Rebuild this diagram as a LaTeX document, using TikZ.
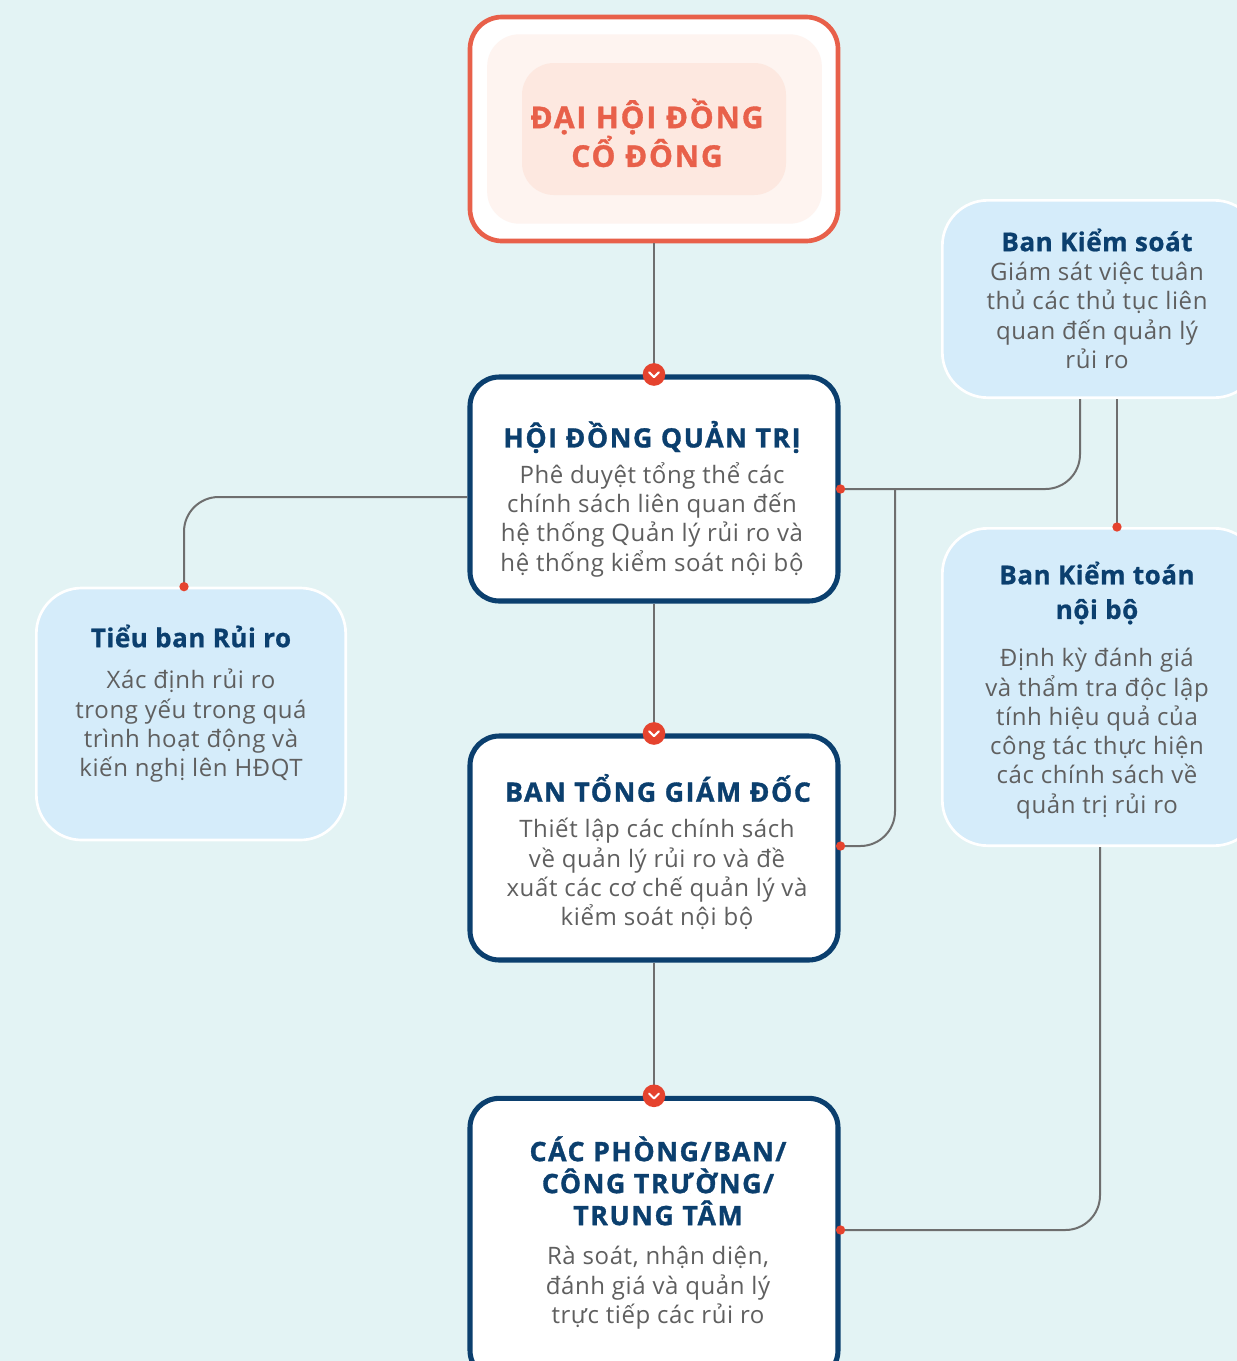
\documentclass[tikz,border=0pt]{standalone}
\usepackage{fontspec}
\setmainfont{Open Sans}[LetterSpace=2.5]
\newfontfamily\titlefont{Open Sans}[LetterSpace=6, BoldFeatures={FakeBold=1.2}]
\newfontfamily\stitlefont{Open Sans}[LetterSpace=2, BoldFeatures={FakeBold=0.8}]
\usetikzlibrary{calc}
\definecolor{bgc}{HTML}{E3F3F4}
\definecolor{navy}{HTML}{0B3F6E}
\definecolor{orng}{HTML}{E8604A}
\definecolor{txtg}{HTML}{5F5F5F}
\definecolor{conc}{HTML}{6E6E6E}
\definecolor{lblue}{HTML}{D5ECFA}
\definecolor{pink1}{HTML}{FEF4F0}
\definecolor{pink2}{HTML}{FDE8E0}
\definecolor{redd}{HTML}{E5432E}
\tikzset{
  mainbox/.style={draw=navy, line width=3.8pt, fill=white, rounded corners=22pt, minimum width=276pt, minimum height=168pt, inner sep=0pt},
  sidebox/.style={draw=white, line width=2pt, fill=lblue, rounded corners=34pt, inner sep=0pt},
  ttl/.style={text=navy, font=\titlefont\bfseries\fontsize{20}{24}\selectfont, align=center, inner sep=0pt},
  sttl/.style={text=navy, font=\stitlefont\bfseries\fontsize{19.5}{26}\selectfont, align=center, inner sep=0pt},
  bdy/.style={text=txtg, font=\fontsize{18}{22}\selectfont, align=center, inner sep=0pt},
  conn/.style={draw=conc, line width=1.5pt, rounded corners=26pt},
  rdot/.style={circle, fill=redd, inner sep=0pt, minimum size=7pt},
}
\newcommand{\chev}[1]{%
  \fill[redd] (#1) circle (8.5pt);
  \draw[white, line width=1.5pt, line cap=round, line join=round] ($(#1)+(-3.6pt,1.6pt)$) -- ($(#1)+(0,-2pt)$) -- ($(#1)+(3.6pt,1.6pt)$);
}
\begin{document}
\begin{tikzpicture}[x=0.75pt,y=-0.75pt]
\useasboundingbox (0,0) rectangle (1237,1361);
\clip (0,0) rectangle (1237,1361);
\fill[bgc] (0,0) rectangle (1237,1361);

% top box
\node[draw=orng, line width=3.5pt, fill=white, rounded corners=24pt, minimum width=276pt, minimum height=168pt, inner sep=0pt] (dhd) at (654,129) {};
\node[fill=pink1, rounded corners=24pt, minimum width=251pt, minimum height=142pt, inner sep=0pt] (dhdin) at (654.5,129) {};
\node[fill=pink2, rounded corners=24pt, minimum width=198pt, minimum height=99pt, inner sep=0pt] (dhdin2) at (654,129) {};
\node[text=orng, font=\titlefont\bfseries\fontsize{22.5}{28}\selectfont, align=center, inner sep=0pt] (dhdt) at (647,133) {ĐẠI HỘI ĐỒNG\\CỔ ĐÔNG};

% main boxes
\node[mainbox] (hdqt) at (654,489) {};
\node[mainbox] (btgd) at (654,848) {};
\node[mainbox, minimum height=211pt] (phong) at (654,1239) {};

% side boxes
\node[sidebox, minimum width=232pt, minimum height=189pt] (tieu) at (191,714) {};
\node[sidebox, minimum width=238pt, minimum height=148pt] (bks) at (1101,299) {};
\node[sidebox, minimum width=238pt, minimum height=238pt] (bkt) at (1101,687) {};

% texts
\node[ttl] (hdqtt) at (652,437) {HỘI ĐỒNG QUẢN TRỊ};
\node[bdy, anchor=north] (hdqtb) at (652,462) {Phê duyệt tổng thể các\\chính sách liên quan đến\\hệ thống Quản lý rủi ro và\\hệ thống kiểm soát nội bộ};

\node[ttl] (btgdt) at (658,788) {BAN TỔNG GIÁM ĐỐC};
\node[bdy, anchor=north] (btgdb) at (657,818) {Thiết lập các chính sách\\về quản lý rủi ro và đề\\xuất các cơ chế quản lý và\\kiểm soát nội bộ};

\node[ttl, anchor=north] (phongt) at (658,1136) {CÁC PHÒNG/BAN/\\CÔNG TRƯỜNG/\\TRUNG TÂM};
\node[bdy, anchor=north] (phongb) at (658,1246) {Rà soát, nhận diện,\\đánh giá và quản lý\\trực tiếp các rủi ro};

\node[sttl] (tieut) at (191,636) {Tiểu ban Rủi ro};
\node[bdy, anchor=north] (tieub) at (191,669) {Xác định rủi ro\\trong yếu trong quá\\trình hoạt động và\\kiến nghị lên HĐQT};

\node[sttl] (bkst) at (1097,240) {Ban Kiểm soát};
\node[bdy, anchor=north] (bksb) at (1097,262) {Giám sát việc tuân\\thủ các thủ tục liên\\quan đến quản lý\\rủi ro};

\node[sttl] (bktt) at (1097,593) {Ban Kiểm toán\\nội bộ};
\node[bdy, anchor=north] (bktb) at (1097,648) {Định kỳ đánh giá\\và thẩm tra độc lập\\tính hiệu quả của\\công tác thực hiện\\các chính sách về\\quản trị rủi ro};

% connectors
\coordinate (hw) at ([yshift=-6pt]hdqt.west);
\coordinate (tn) at ([xshift=-5.25pt]tieu.north);
\coordinate (he) at (hdqt.east);
\coordinate (ksb1) at ([xshift=-15.75pt]bks.south);
\coordinate (ksb2) at ([xshift=12pt]bks.south);
\coordinate (ktn) at (bkt.north -| ksb2);
\coordinate (be) at ([yshift=1.5pt]btgd.east);
\coordinate (ktb) at ([xshift=-0.75pt]bkt.south);
\coordinate (pe) at ([yshift=6.75pt]phong.east);
\coordinate (br) at (895,489);

\draw[conn] (dhd.south) -- (hdqt.north);
\draw[conn] (hdqt.south) -- (btgd.north);
\draw[conn] (btgd.south) -- (phong.north);
\draw[conn] (hw) -- (tn |- hw) -- (tn);
\draw[conn] (he) -- (ksb1 |- he) -- (ksb1);
\draw[conn] (br) -- (br |- be) -- (be);
\draw[conn] (ksb2) -- (ktn);
\draw[conn] (ktb) -- (ktb |- pe) -- (pe);

\chev{hdqt.north}
\chev{btgd.north}
\chev{phong.north}
\node[rdot] (d1) at (tn) {};
\node[rdot] (d2) at (he) {};
\node[rdot] (d3) at (be) {};
\node[rdot] (d4) at (ktn) {};
\node[rdot] (d5) at (pe) {};
\end{tikzpicture}
\end{document}
